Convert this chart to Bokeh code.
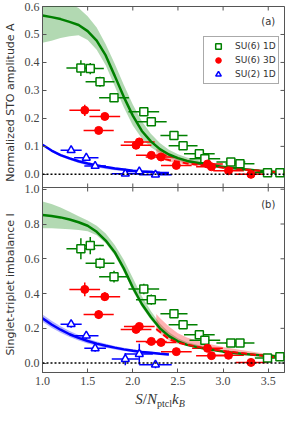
import numpy as np
from bokeh.plotting import figure
from bokeh.layouts import column
from bokeh.models import (Range1d, Span, Label, Legend, LegendItem, FixedTicker,
                          NumeralTickFormatter, CustomJSTickFormatter, Div)
from bokeh.embed import file_html
from bokeh.resources import INLINE

GREEN = "#008000"
RED = "#ff0000"
BLUE = "#0000ff"
AXC = "#555555"
TXT = "#333333"

# ---------------- data ----------------
x_su6_1d = [1.425, 1.529, 1.637, 1.792, 2.122, 2.205, 2.456, 2.557, 2.737, 2.798, 3.086, 3.187, 3.492, 3.629]
xerr_su6_1d = [0.16, 0.15, 0.16, 0.165, 0.17, 0.17, 0.15, 0.16, 0.17, 0.17, 0.16, 0.16, 0.14, 0.13]
A_su6_1d = [0.380, 0.378, 0.331, 0.274, 0.224, 0.188, 0.139, 0.102, 0.074, 0.056, 0.044, 0.038, 0.006, 0.006]
Aerr_su6_1d = [0.028, 0.02, 0.018, 0.012, 0.015, 0.012, 0.01, 0.01, 0.01, 0.008, 0.008, 0.008, 0.005, 0.005]
I_su6_1d = [0.658, 0.676, 0.574, 0.497, 0.426, 0.365, 0.284, 0.221, 0.163, 0.132, 0.115, 0.115, 0.029, 0.037]
Ierr_su6_1d = [0.06, 0.05, 0.032, 0.034, 0.03, 0.03, 0.025, 0.02, 0.02, 0.02, 0.015, 0.015, 0.01, 0.01]

x_su6_3d = [1.468, 1.622, 1.690, 2.036, 2.072, 2.205, 2.313, 2.482, 2.827, 2.871, 3.060, 3.309]
xerr_su6_3d = [0.17, 0.167, 0.17, 0.17, 0.17, 0.17, 0.17, 0.17, 0.17, 0.17, 0.17, 0.17]
A_su6_3d = [0.229, 0.157, 0.207, 0.104, 0.116, 0.068, 0.062, 0.032, 0.037, 0.027, 0.013, 0.0]
Aerr_su6_3d = [0.02, 0.012, 0.012, 0.012, 0.012, 0.01, 0.01, 0.01, 0.01, 0.01, 0.01, 0.008]
I_su6_3d = [0.424, 0.279, 0.382, 0.194, 0.211, 0.125, 0.119, 0.066, 0.085, 0.043, 0.045, 0.004]
Ierr_su6_3d = [0.04, 0.025, 0.025, 0.02, 0.02, 0.015, 0.015, 0.015, 0.015, 0.015, 0.015, 0.01]

x_su2_1d = [1.317, 1.485, 1.583, 1.917, 2.072, 2.251]
xerr_su2_1d = [0.117, 0.135, 0.12, 0.15, 0.15, 0.18]
A_su2_1d = [0.086, 0.059, 0.030, 0.002, 0.010, -0.001]
Aerr_su2_1d = [0.01, 0.008, 0.008, 0.008, 0.01, 0.008]
I_su2_1d = [0.224, 0.158, 0.085, 0.023, 0.052, -0.009]
Ierr_su2_1d = [0.02, 0.02, 0.02, 0.035, 0.06, 0.02]

# theory curves
th_x_g = [1.0, 1.1, 1.2, 1.3, 1.4, 1.5, 1.6, 1.7, 1.8, 1.9, 2.0, 2.1, 2.2, 2.3, 2.4, 2.5, 2.6, 2.8, 3.0, 3.2, 3.4, 3.68]
th_A_g = [0.568, 0.562, 0.555, 0.545, 0.534, 0.512, 0.478, 0.425, 0.352, 0.277, 0.21, 0.155, 0.118, 0.09, 0.071, 0.058, 0.048, 0.036, 0.026, 0.019, 0.013, 0.007]
th_A_g_hi = [0.64, 0.635, 0.625, 0.61, 0.595, 0.565, 0.525, 0.465, 0.395, 0.32, 0.25, 0.19, 0.145, 0.112, 0.088, 0.072, 0.06, 0.045, 0.033, 0.024, 0.017, 0.01]
th_A_g_lo = [0.47, 0.478, 0.487, 0.494, 0.497, 0.48, 0.445, 0.39, 0.315, 0.24, 0.175, 0.128, 0.097, 0.075, 0.06, 0.049, 0.041, 0.031, 0.022, 0.016, 0.011, 0.006]
th_I_g = [0.852, 0.846, 0.838, 0.826, 0.81, 0.79, 0.755, 0.705, 0.638, 0.545, 0.435, 0.34, 0.265, 0.2, 0.155, 0.125, 0.105, 0.082, 0.066, 0.054, 0.045, 0.036]
th_I_g_hi = [0.93, 0.915, 0.895, 0.87, 0.845, 0.82, 0.79, 0.745, 0.68, 0.595, 0.49, 0.385, 0.3, 0.228, 0.177, 0.143, 0.12, 0.094, 0.076, 0.062, 0.052, 0.042]
th_I_g_lo = [0.775, 0.775, 0.773, 0.77, 0.765, 0.758, 0.735, 0.69, 0.62, 0.525, 0.415, 0.322, 0.25, 0.188, 0.146, 0.118, 0.1, 0.078, 0.063, 0.052, 0.043, 0.034]

th_x_b = [1.0, 1.1, 1.2, 1.3, 1.4, 1.5, 1.6, 1.7, 1.8, 1.9, 2.0, 2.1, 2.2, 2.3, 2.4]
th_A_b = [0.106, 0.085, 0.069, 0.057, 0.047, 0.039, 0.032, 0.026, 0.021, 0.017, 0.013, 0.010, 0.008, 0.006, 0.005]
th_A_b_hi = [0.108, 0.088, 0.073, 0.062, 0.052, 0.044, 0.037, 0.031, 0.026, 0.021, 0.017, 0.014, 0.011, 0.009, 0.007]
th_A_b_lo = [0.103, 0.081, 0.064, 0.051, 0.041, 0.032, 0.025, 0.019, 0.015, 0.011, 0.008, 0.006, 0.004, 0.003, 0.002]
th_I_b = [0.258, 0.222, 0.192, 0.166, 0.145, 0.127, 0.112, 0.1, 0.089, 0.079, 0.071, 0.064, 0.059, 0.054, 0.05]
th_I_b_hi = [0.28, 0.243, 0.212, 0.184, 0.161, 0.141, 0.125, 0.111, 0.099, 0.089, 0.08, 0.072, 0.066, 0.061, 0.056]
th_I_b_lo = [0.238, 0.203, 0.174, 0.15, 0.13, 0.113, 0.1, 0.089, 0.079, 0.07, 0.062, 0.056, 0.052, 0.048, 0.044]

th_x_r = [2.26, 2.3, 2.4, 2.5, 2.6, 2.8, 3.0, 3.2, 3.4, 3.68]
th_A_r = [0.062, 0.059, 0.051, 0.045, 0.039, 0.031, 0.024, 0.018, 0.013, 0.006]
th_A_r_hi = [0.092, 0.086, 0.072, 0.062, 0.053, 0.041, 0.031, 0.023, 0.017, 0.009]
th_A_r_lo = [0.055, 0.053, 0.046, 0.040, 0.035, 0.027, 0.021, 0.015, 0.011, 0.004]
th_I_r = [0.196, 0.18, 0.138, 0.118, 0.106, 0.085, 0.07, 0.058, 0.045, 0.025]
th_I_r_hi = [0.282, 0.26, 0.21, 0.172, 0.148, 0.115, 0.092, 0.075, 0.06, 0.042]
th_I_r_lo = [0.185, 0.17, 0.13, 0.11, 0.099, 0.08, 0.065, 0.053, 0.041, 0.021]

x_ticks = [1.0, 1.5, 2.0, 2.5, 3.0, 3.5]
yA_ticks = [0.0, 0.1, 0.2, 0.3, 0.4, 0.5, 0.6]
yI_ticks = [0.0, 0.2, 0.4, 0.6, 0.8, 1.0]

label_a = "Normalized STO amplitude A"
label_b = "Singlet-triplet imbalance I"
legend_labels = ["SU(6) 1D", "SU(6) 3D", "SU(2) 1D"]

# ---------------- geometry: one frame holding both panels ----------------
X_LO, X_HI = 1.0, 3.68
A_LO, A_HI = -0.047, 0.6      # panel (a) visible y-range
B_LO, B_HI = -0.054, 1.01     # panel (b) visible y-range
TOP, BOT, LEFT, RIGHT = 6, 20, 36, 4
W, H = 288, 392
FRAME_H = H - TOP - BOT
HA = 181                      # pixel height of panel (a)
HB = FRAME_H - HA             # pixel height of panel (b)

b_end = B_LO + (B_HI - B_LO) * FRAME_H / HB
a_start = A_HI - (A_HI - A_LO) * FRAME_H / HA


def a_to_b(v):
    return B_HI + (v - A_LO) / (A_HI - A_LO) * (b_end - B_HI)


left_ticks = list(yI_ticks) + [a_to_b(v) for v in yA_ticks]

p = figure(width=W, height=H, x_range=Range1d(X_LO, X_HI), y_range=Range1d(B_LO, b_end),
           output_backend="svg", toolbar_location=None,
           min_border_left=LEFT, min_border_right=RIGHT, min_border_top=TOP, min_border_bottom=BOT)
p.extra_y_ranges = {"a": Range1d(a_start, A_HI)}
p.grid.visible = False
p.outline_line_color = AXC
p.background_fill_color = "white"

xax = p.below[0]
yax = p.left[0]
for ax in (xax, yax):
    ax.major_tick_in = 4
    ax.major_tick_out = 0
    ax.minor_tick_in = 0
    ax.minor_tick_out = 0
    ax.axis_line_color = AXC
    ax.major_tick_line_color = AXC
    ax.major_label_text_font = "Liberation Serif"
    ax.major_label_text_font_size = "12px"
    ax.major_label_text_color = "#444444"
xax.ticker = FixedTicker(ticks=x_ticks)
xax.formatter = NumeralTickFormatter(format="0.0")
xax.major_label_standoff = 4

yax.ticker = FixedTicker(ticks=left_ticks)
yax.formatter = CustomJSTickFormatter(
    args=dict(bhi=B_HI, bend=b_end, alo=A_LO, ahi=A_HI),
    code="""
    let v = tick;
    if (tick > bhi + 1e-9) {
        v = alo + (tick - bhi) / (bend - bhi) * (ahi - alo);
    }
    if (Math.abs(v) < 1e-9) { v = 0; }
    return v.toFixed(1);
    """)
yax.major_label_standoff = 3
# both panel titles share the left axis title, spaced with no-break spaces
NB = "\u00a0"
yax.axis_label = label_b + NB * 9 + label_a
yax.axis_label_text_font = "DejaVu Sans"
yax.axis_label_text_font_size = "11px"
yax.axis_label_text_font_style = "normal"
yax.axis_label_text_color = TXT
yax.axis_label_standoff = 5

# panel separator and inward tick marks on the remaining edges
p.add_layout(Span(location=B_HI, dimension="width", line_color=AXC, line_width=1))
p.scatter(x=x_ticks, y=[b_end] * len(x_ticks), marker="dash", angle=np.pi / 2, size=8,
          line_color=AXC, line_width=1)
p.scatter(x=x_ticks, y=[B_HI] * len(x_ticks), marker="dash", angle=np.pi / 2, size=8,
          line_color=AXC, line_width=1)
p.scatter(x=[X_HI] * len(left_ticks), y=left_ticks, marker="dash", size=8,
          line_color=AXC, line_width=1)


def err(x, y, xe, ye, color, rn):
    x = np.array(x); y = np.array(y); xe = np.array(xe); ye = np.array(ye)
    p.segment(x0=x - xe, y0=y, x1=x + xe, y1=y, line_color=color, line_width=1.5, y_range_name=rn)
    p.segment(x0=x, y0=y - ye, x1=x, y1=y + ye, line_color=color, line_width=1.5, y_range_name=rn)


def panel(rn, gy, gyhi, gylo, by, byhi, bylo, ry, ryhi, rylo, y1, e1, y3, e3, y2, e2):
    p.varea(x=th_x_g, y1=gylo, y2=gyhi, fill_color=GREEN, fill_alpha=0.3, y_range_name=rn)
    p.varea(x=th_x_r, y1=rylo, y2=ryhi, fill_color=RED, fill_alpha=0.3, y_range_name=rn)
    p.varea(x=th_x_b, y1=bylo, y2=byhi, fill_color=BLUE, fill_alpha=0.3, y_range_name=rn)
    p.add_layout(Span(location=0, dimension="width", line_color="black", line_dash="2 2",
                      line_width=1.5, y_range_name=rn))
    err(x_su6_1d, y1, xerr_su6_1d, e1, GREEN, rn)
    err(x_su6_3d, y3, xerr_su6_3d, e3, RED, rn)
    err(x_su2_1d, y2, xerr_su2_1d, e2, BLUE, rn)
    p.line(th_x_g, gy, line_color=GREEN, line_width=2.5, y_range_name=rn)
    p.line(th_x_r, ry, line_color=RED, line_width=2, line_dash="6 3", y_range_name=rn)
    p.line(th_x_b, by, line_color=BLUE, line_width=2.5, y_range_name=rn)
    r1 = p.scatter(x_su6_1d, y1, marker="square", size=8, fill_color="white", line_color=GREEN,
                   line_width=1.5, y_range_name=rn)
    r3 = p.scatter(x_su6_3d, y3, marker="circle", size=8, fill_color=RED, line_color=RED,
                   line_width=1, y_range_name=rn)
    r2 = p.scatter(x_su2_1d, y2, marker="triangle", size=8, fill_color="white", line_color=BLUE,
                   line_width=1.5, y_range_name=rn)
    return r1, r3, r2


# panel (a)
r1, r3, r2 = panel("a", th_A_g, th_A_g_hi, th_A_g_lo, th_A_b, th_A_b_hi, th_A_b_lo,
                   th_A_r, th_A_r_hi, th_A_r_lo,
                   A_su6_1d, Aerr_su6_1d, A_su6_3d, Aerr_su6_3d, A_su2_1d, Aerr_su2_1d)
# panel (b)
panel("default", th_I_g, th_I_g_hi, th_I_g_lo, th_I_b, th_I_b_hi, th_I_b_lo,
      th_I_r, th_I_r_hi, th_I_r_lo,
      I_su6_1d, Ierr_su6_1d, I_su6_3d, Ierr_su6_3d, I_su2_1d, Ierr_su2_1d)

leg = Legend(items=[LegendItem(label=legend_labels[0], renderers=[r1]),
                    LegendItem(label=legend_labels[1], renderers=[r3]),
                    LegendItem(label=legend_labels[2], renderers=[r2])],
             location=(161, FRAME_H - 78), padding=2, spacing=0, margin=0,
             glyph_width=24, glyph_height=14, label_height=14, label_standoff=5,
             label_text_font="DejaVu Sans", label_text_font_size="9px", label_text_color=TXT,
             border_line_color=AXC, border_line_width=1, background_fill_alpha=0.9)
p.add_layout(leg, "center")

p.add_layout(Label(x=3.5, y=0.546, y_range_name="a", text="(a)", text_font="DejaVu Sans",
                   text_font_size="10px", text_color=TXT, text_align="center", text_baseline="middle"))
p.add_layout(Label(x=3.5, y=0.913, text="(b)", text_font="DejaVu Sans",
                   text_font_size="10px", text_color=TXT, text_align="center", text_baseline="middle"))

# x-axis title (italic serif with subscripts) centred under the frame
frame_w = W - LEFT - RIGHT
xtitle = Div(
    text=(f'<div style="margin-left:{LEFT}px; width:{frame_w}px; text-align:center; '
          'font-family:\'Liberation Serif\', serif; font-size:15px; line-height:15px; color:#333333;">'
          '<i>S</i>/<i>N</i><sub style="font-size:10px; vertical-align:-3px; line-height:0;">ptcl</sub>'
          '<i>k</i><sub style="font-size:10px; vertical-align:-3px; line-height:0;"><i>B</i></sub></div>'),
    width=W, height=15, margin=0)

layout = column(p, xtitle, spacing=0)
open("out.html", "w").write(file_html(layout, INLINE))
